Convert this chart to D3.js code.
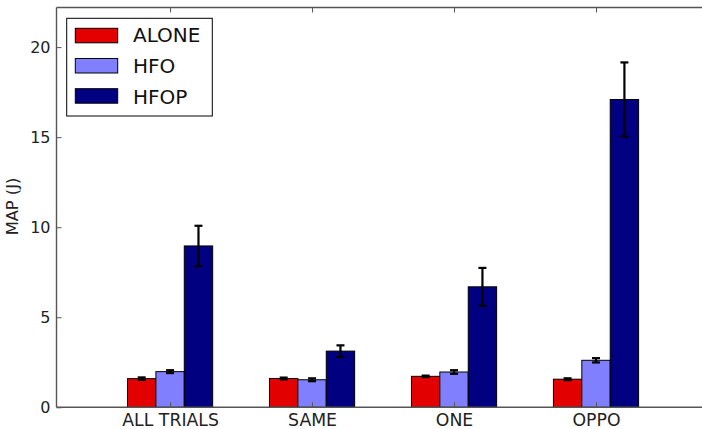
<!DOCTYPE html>
<html><head><meta charset="utf-8">
<script src="https://cdn.jsdelivr.net/npm/d3@7"></script>
<style>body{margin:0;background:#fff}svg{display:block}</style>
</head><body>
<script>
const categories = ["ALL TRIALS", "SAME", "ONE", "OPPO"];
const seriesNames = ["ALONE", "HFO", "HFOP"];
const aloneValues = [1.59, 1.60, 1.72, 1.56];
const aloneErrors = [0.07, 0.05, 0.04, 0.05];
const hfoValues = [1.98, 1.53, 1.96, 2.61];
const hfoErrors = [0.08, 0.08, 0.10, 0.12];
const hfopValues = [8.96, 3.12, 6.69, 17.09];
const hfopErrors = [1.12, 0.32, 1.05, 2.06];
const yTicks = [0, 5, 10, 15, 20];

const series = [
  {name: seriesNames[0], values: aloneValues, errors: aloneErrors, color: "#e30000", off: -0.3},
  {name: seriesNames[1], values: hfoValues, errors: hfoErrors, color: "#8080ff", off: -0.1},
  {name: seriesNames[2], values: hfopValues, errors: hfopErrors, color: "#000080", off: 0.1}
];
const barW = 0.2;

const W = 702, H = 429;
const svg = d3.select("body").append("svg").attr("width", W).attr("height", H);
const font = "DejaVu Sans, sans-serif";

const x = d3.scaleLinear().domain([-0.8, 3.75]).range([56.5, 702.5]);
const y = d3.scaleLinear().domain([0, 22.2]).range([407.3, 7.5]);

// bars
series.forEach(s => {
  svg.append("g").selectAll("rect").data(categories).join("rect")
    .attr("x", (d, i) => x(i + s.off))
    .attr("y", (d, i) => y(s.values[i]))
    .attr("width", (d, i) => x(i + s.off + barW) - x(i + s.off))
    .attr("height", (d, i) => y(0) - y(s.values[i]))
    .attr("fill", s.color).attr("stroke", "#000").attr("stroke-width", 1);
});

// error bars
series.forEach(s => {
  const g = svg.append("g").attr("stroke", "#000").attr("stroke-width", 2.2);
  categories.forEach((c, i) => {
    const cx = x(i + s.off + barW / 2);
    const lo = y(s.values[i] - s.errors[i]), hi = y(s.values[i] + s.errors[i]);
    g.append("line").attr("x1", cx).attr("x2", cx).attr("y1", lo).attr("y2", hi);
    g.append("line").attr("x1", cx - 4).attr("x2", cx + 4).attr("y1", lo).attr("y2", lo);
    g.append("line").attr("x1", cx - 4).attr("x2", cx + 4).attr("y1", hi).attr("y2", hi);
  });
});

// y axis
const yAxis = svg.append("g").attr("transform", `translate(${x.range()[0]},0)`)
  .call(d3.axisLeft(y).tickValues(yTicks).tickSizeInner(-5).tickSizeOuter(0).tickPadding(6));
yAxis.select(".domain").remove();
yAxis.selectAll("line").attr("stroke", "#555");
yAxis.selectAll("text").attr("font-family", font).attr("font-size", 16).attr("fill", "#222");

// x axis (bottom ticks point inward)
const xAxis = svg.append("g").attr("transform", `translate(0,${y(0)})`)
  .call(d3.axisBottom(x).tickValues(d3.range(categories.length)).tickFormat(i => categories[i])
    .tickSizeInner(-5).tickSizeOuter(0).tickPadding(6));
xAxis.select(".domain").remove();
xAxis.selectAll("line").attr("stroke", "#555");
xAxis.selectAll("text").attr("font-family", font).attr("font-size", 17.3).attr("fill", "#222");

// top mirrored ticks
const topAxis = svg.append("g").attr("transform", `translate(0,${y.range()[1]})`)
  .call(d3.axisTop(x).tickValues(d3.range(categories.length)).tickFormat("").tickSizeInner(-5).tickSizeOuter(0));
topAxis.select(".domain").remove();
topAxis.selectAll("line").attr("stroke", "#555");

// spines
const spine = svg.append("g").attr("stroke", "#555").attr("stroke-width", 1.4).attr("fill", "none");
spine.append("line").attr("x1", x.range()[0]).attr("x2", x.range()[0]).attr("y1", y.range()[1]).attr("y2", y(0));
spine.append("line").attr("x1", x.range()[0]).attr("x2", W).attr("y1", y(0)).attr("y2", y(0));
spine.append("line").attr("x1", x.range()[0]).attr("x2", W).attr("y1", y.range()[1]).attr("y2", y.range()[1]);

// y label
svg.append("text").attr("transform", `translate(18,206.5) rotate(-90)`)
  .attr("text-anchor", "middle").attr("font-family", font).attr("font-size", 16.3).attr("fill", "#222")
  .text("MAP (J)");

// legend
const lg = svg.append("g");
lg.append("rect").attr("x", 66.7).attr("y", 18.3).attr("width", 145.6).attr("height", 97.7)
  .attr("fill", "#fff").attr("stroke", "#000").attr("stroke-width", 1);
series.forEach((s, k) => {
  lg.append("rect").attr("x", 75.3).attr("y", 28.3 + k * 30.2).attr("width", 42.4).attr("height", 14.5)
    .attr("fill", s.color).attr("stroke", "#000").attr("stroke-width", 1);
  lg.append("text").attr("x", 133).attr("y", 41.7 + k * 31)
    .attr("font-family", font).attr("font-size", 20).attr("fill", "#111").text(s.name);
});
</script>
</body></html>
